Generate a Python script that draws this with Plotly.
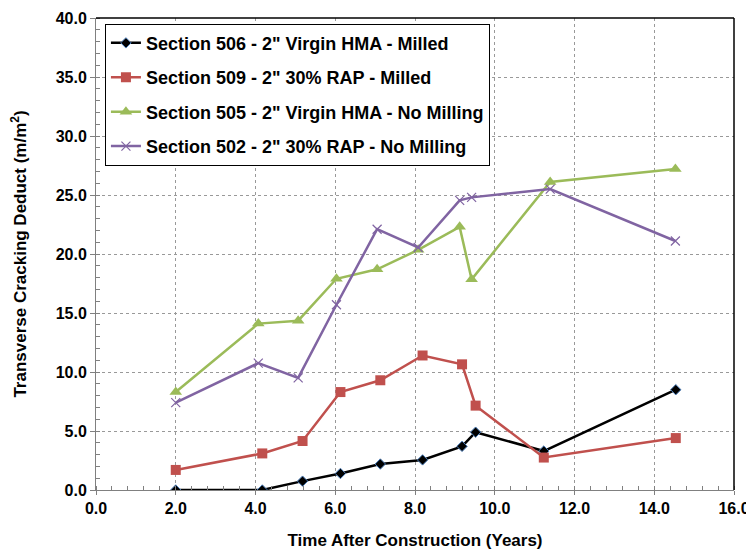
import plotly.graph_objects as go

names = [
    'Section 506 - 2" Virgin HMA - Milled',
    'Section 509 - 2" 30% RAP - Milled',
    'Section 505 - 2" Virgin HMA - No Milling',
    'Section 502 - 2" 30% RAP - No Milling',
]
x_milled = [2.0, 4.17, 5.18, 6.13, 7.13, 8.19, 9.18, 9.52, 11.23, 14.54]
y_506 = [0.0, 0.0, 0.75, 1.4, 2.2, 2.55, 3.7, 4.9, 3.3, 8.5]
y_509 = [1.7, 3.1, 4.15, 8.3, 9.3, 11.4, 10.65, 7.15, 2.75, 4.4]
x_nomill = [2.0, 4.07, 5.07, 6.03, 7.05, 8.08, 9.12, 9.42, 11.39, 14.53]
y_505 = [8.3, 14.1, 14.35, 17.9, 18.7, 20.35, 22.3, 17.85, 26.1, 27.2]
y_502 = [7.4, 10.75, 9.5, 15.7, 22.1, 20.55, 24.55, 24.8, 25.5, 21.1]

fig = go.Figure()
fig.add_trace(go.Scatter(x=x_milled, y=y_506, name=names[0], mode="lines+markers", legendgroup="a",
                         line=dict(color="#000000", width=2.5),
                         marker=dict(symbol="diamond", size=8, color="#000000", line=dict(color="#4F81BD", width=1))))
fig.add_trace(go.Scatter(x=x_milled, y=y_509, name=names[1], mode="lines+markers", legendgroup="b",
                         line=dict(color="#C0504D", width=2.5),
                         marker=dict(symbol="square", size=10, color="#C0504D")))
fig.add_trace(go.Scatter(x=x_nomill, y=y_505, name=names[2], mode="lines+markers", legendgroup="c",
                         line=dict(color="#9BBB59", width=2.5),
                         marker=dict(symbol="triangle-up", size=11, color="#9BBB59")))
fig.add_trace(go.Scatter(x=x_nomill, y=y_502, name=names[3], mode="lines+markers", legendgroup="d",
                         line=dict(color="#8064A2", width=2.5),
                         marker=dict(symbol="x-thin", size=9, color="#8064A2", line=dict(color="#8064A2", width=1.2))))

font_family = "Liberation Sans, Arial, sans-serif"
fig.update_layout(
    width=754, height=550,
    margin=dict(l=88, r=28, t=10, b=68, autoexpand=False),
    paper_bgcolor="white", plot_bgcolor="white",
    font=dict(family=font_family, color="#000000"),
    showlegend=True,
    legend=dict(x=0.014, y=0.988, xanchor="left", yanchor="top",
                bgcolor="white", bordercolor="#000000", borderwidth=1,
                font=dict(size=18, family=font_family, weight="bold"),
                tracegroupgap=8, itemwidth=30),
    xaxis=dict(range=[0, 16], dtick=2, tickformat=".1f", automargin=False,
               showline=True, linecolor="#808080", linewidth=1, mirror=False,
               ticks="outside", ticklen=4, tickcolor="#808080",
               minor=dict(dtick=0.4, ticks="inside", ticklen=4, tickcolor="#808080", showgrid=False),
               showgrid=True, gridcolor="#999999", griddash="dot", gridwidth=1,
               zeroline=False,
               tickfont=dict(size=16, weight="bold"),
               title=dict(text="Time After Construction (Years)", font=dict(size=17, weight="bold"), standoff=17)),
    yaxis=dict(range=[0, 40], dtick=5, tickformat=".1f", automargin=False,
               showline=True, linecolor="#808080", linewidth=1,
               ticks="outside", ticklen=5, tickcolor="#808080",
               minor=dict(dtick=1, ticks="inside", ticklen=4, tickcolor="#808080", showgrid=False),
               showgrid=True, gridcolor="#999999", griddash="dot", gridwidth=1,
               zeroline=False,
               tickfont=dict(size=16, weight="bold"),
               title=dict(text="Transverse Cracking Deduct (m/m<sup>2</sup>)", font=dict(size=17, weight="bold"), standoff=27)),
    shapes=[
        dict(type="line", xref="paper", yref="paper", x0=0, x1=1, y0=1, y1=1, line=dict(color="#000000", width=1.5)),
        dict(type="line", xref="paper", yref="paper", x0=1, x1=1, y0=0, y1=1, line=dict(color="#000000", width=1.5)),
    ],
)
fig.write_html("out.html")
